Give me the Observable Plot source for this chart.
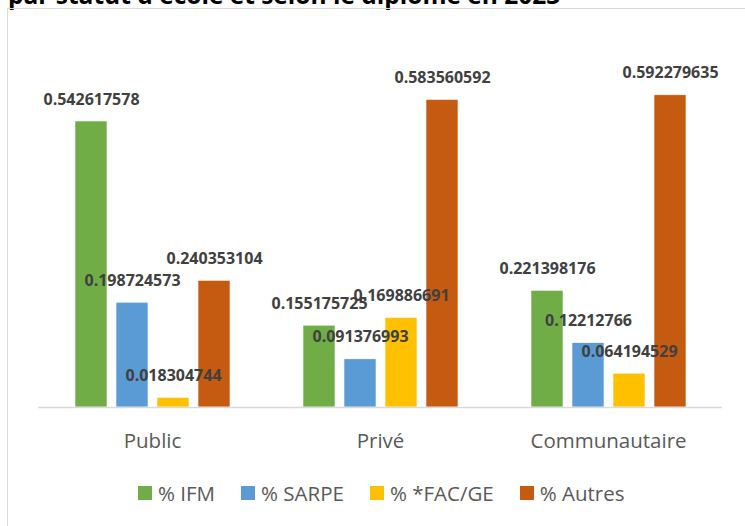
<!DOCTYPE html>
<html>
<head>
<meta charset="utf-8">
<script src="https://cdn.jsdelivr.net/npm/d3@7"></script>
<script src="https://cdn.jsdelivr.net/npm/@observablehq/plot@0.6"></script>
<style>
  html, body { margin: 0; padding: 0; background: #fff; width: 745px; height: 526px; overflow: hidden; }
  #chart { position: absolute; left: 0; top: 0; }
  #frame { position: absolute; left: 7px; top: 8px; width: 900px; height: 700px; border: 1px solid #d9d9d9; pointer-events: none; }
  #legend { position: absolute; left: 138px; top: 480px; height: 25px; display: flex; align-items: center;
            font-family: "Open Sans", sans-serif; font-size: 20.5px; color: #595959; white-space: nowrap; }
  #legend .item { display: flex; align-items: center; margin-right: 26px; }
  #legend .sw { width: 14px; height: 14px; margin-right: 6px; }
</style>
</head>
<body>
<div id="chart"></div>
<div id="frame"></div>
<div id="legend"></div>
<script>
const title = "par statut d'école et selon le diplôme en 2023";
const categories = ["Public", "Privé", "Communautaire"];
const series = ["% IFM", "% SARPE", "% *FAC/GE", "% Autres"];
const ifm    = [0.542617578, 0.155175725, 0.221398176];
const sarpe  = [0.198724573, 0.091376993, 0.12212766];
const facge  = [0.018304744, 0.169886691, 0.064194529];
const autres = [0.240353104, 0.583560592, 0.592279635];
const colors = ["#70AD47", "#5B9BD5", "#FFC000", "#C55A11"];

const valuesBySeries = [ifm, sarpe, facge, autres];
const data = [];
categories.forEach((c, i) => {
  series.forEach((s, j) => {
    data.push({category: c, series: s, value: valuesBySeries[j][i]});
  });
});

const plot = Plot.plot({
  width: 745,
  height: 470,
  marginLeft: 38,
  marginRight: 23,
  marginTop: 38,
  marginBottom: 63,
  style: {background: "transparent", fontFamily: "Open Sans, sans-serif"},
  fx: {domain: categories, padding: 0, label: null},
  x: {domain: series, paddingInner: 0.23, paddingOuter: 0.86, axis: null},
  y: {domain: [0, 0.7], axis: null},
  color: {domain: series, range: colors},
  marks: [
    Plot.barY(data, {fx: "category", x: "series", y: "value", fill: "series", stroke: "#fff", strokeWidth: 0.6}),
    Plot.ruleY([0], {stroke: "#d9d9d9", strokeWidth: 1.5}),
    Plot.text(data, {fx: "category", x: "series", y: "value", text: d => String(d.value), dy: -22,
      fontSize: 16, fontWeight: "bold", fill: "#404040"}),
    Plot.axisFx({anchor: "bottom", tickSize: 0, tickPadding: 26, fontSize: 20.5, color: "#595959", label: null})
  ]
});
document.getElementById("chart").appendChild(plot);

d3.select(plot).append("text")
  .attr("x", 8).attr("y", 4)
  .attr("text-anchor", "start")
  .attr("font-family", "Open Sans, sans-serif")
  .attr("font-weight", "bold")
  .attr("font-size", 24.5)
  .attr("fill", "#000")
  .text(title);

const legend = d3.select("#legend");
series.forEach((s, j) => {
  const it = legend.append("div").attr("class", "item");
  it.append("div").attr("class", "sw").style("background", colors[j]);
  it.append("span").text(s);
});
</script>
</body>
</html>
